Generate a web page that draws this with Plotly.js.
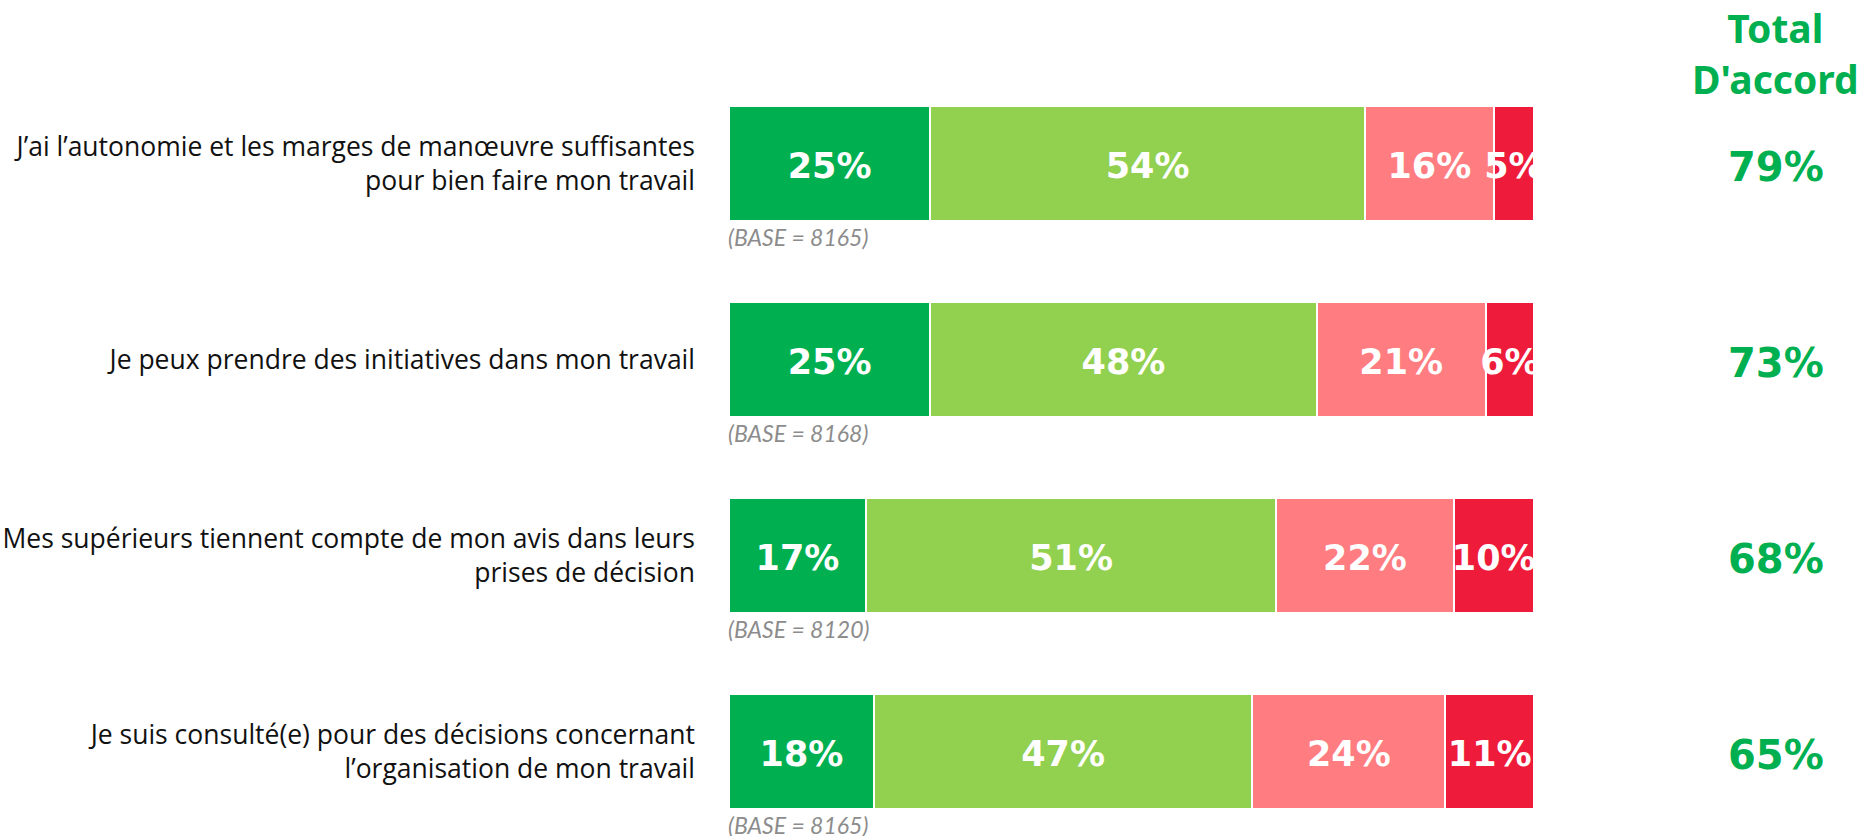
<!DOCTYPE html>
<html>
<head>
<meta charset="utf-8">
<script src="https://cdn.plot.ly/plotly-3.0.1.min.js"></script>
<style>html,body{margin:0;padding:0;background:#fff;}#chart{width:1865px;height:836px;}</style>
</head>
<body>
<div id="chart"></div>
<script>
const categories = [
  "J’ai l’autonomie et les marges de manœuvre suffisantes<br>pour bien faire mon travail",
  "Je peux prendre des initiatives dans mon travail",
  "Mes supérieurs tiennent compte de mon avis dans leurs<br>prises de décision",
  "Je suis consulté(e) pour des décisions concernant<br>l’organisation de mon travail"
];
const seriesNames = ["Tout à fait d'accord", "Plutôt d'accord", "Plutôt pas d'accord", "Pas du tout d'accord"];
const toutAFait = [25, 25, 17, 18];
const plutot = [54, 48, 51, 47];
const plutotPas = [16, 21, 22, 24];
const pasDuTout = [5, 6, 10, 11];
const totalAccord = [79, 73, 68, 65];
const bases = [8165, 8168, 8120, 8165];
const colors = ["#00B050", "#92D050", "#FF7C80", "#EE1B3B"];

const series = [toutAFait, plutot, plutotPas, pasDuTout];
const idx = categories.map((c, i) => i);

const traces = series.map((vals, i) => ({
  type: 'bar', orientation: 'h', name: seriesNames[i],
  y: idx, x: vals, width: 0.587,
  marker: {color: colors[i], line: {color: '#ffffff', width: 2}},
  hoverinfo: 'skip'
}));

// segment value labels at segment midpoints (clipped at the plot edge)
const lx = [], ly = [], lt = [];
idx.forEach(ci => {
  let cum = 0;
  series.forEach(vals => {
    const v = vals[ci];
    lx.push(cum + v / 2); ly.push(ci + 0.03); lt.push(v + '%');
    cum += v;
  });
});
traces.push({
  type: 'scatter', mode: 'text', x: lx, y: ly, text: lt,
  textposition: 'middle center', cliponaxis: true,
  textfont: {family: 'DejaVu Sans', size: 35, color: '#ffffff', weight: 'bold'},
  hoverinfo: 'skip', showlegend: false
});

const annotations = [];
bases.forEach((b, i) => {
  annotations.push({
    xref: 'x', yref: 'y', x: 0, y: i + 0.375, xanchor: 'left', yanchor: 'middle',
    xshift: -3, showarrow: false, text: '<i>(BASE = ' + b + ')</i>',
    font: {family: 'Lato', size: 23, color: '#8C8C8C'}
  });
});
totalAccord.forEach((t, i) => {
  annotations.push({
    xref: 'paper', yref: 'y', x: 1.3006, y: i + 0.02, xanchor: 'center', yanchor: 'middle',
    showarrow: false, text: '<b>' + t + '%</b>',
    font: {family: 'DejaVu Sans', size: 40, color: '#00B050'}
  });
});
annotations.push({
  xref: 'paper', yref: 'paper', x: 1.3006, y: 1.009, xanchor: 'center', yanchor: 'middle',
  showarrow: false, text: '<b>Total<br>D\'accord</b>',
  font: {family: 'Noto Sans', size: 39, color: '#00B050'}
});

const layout = {
  width: 1865, height: 836,
  margin: {l: 729, r: 331, t: 60, b: 0},
  paper_bgcolor: '#ffffff', plot_bgcolor: '#ffffff',
  barmode: 'stack', showlegend: false, hovermode: false,
  xaxis: {range: [0, 100], showgrid: false, zeroline: false, showticklabels: false, ticks: '', showline: false, fixedrange: true},
  yaxis: {range: [3.431, -0.528], tickvals: idx, ticktext: categories,
          showgrid: false, zeroline: false, ticks: '', showline: false,
          ticklabelstandoff: 33, fixedrange: true,
          tickfont: {family: 'Open Sans', size: 26.5, color: '#111111'}},
  annotations: annotations
};

Plotly.newPlot('chart', traces, layout, {displayModeBar: false, staticPlot: true});
</script>
</body>
</html>
